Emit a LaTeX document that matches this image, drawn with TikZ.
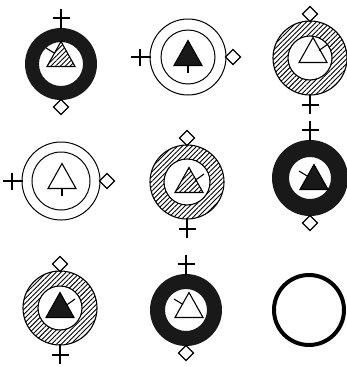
\documentclass[tikz,border=0pt]{standalone}
\usetikzlibrary{patterns.meta}
\tikzset{
  ol/.style={line width=1.1pt},
  thin ring/.style={line width=1pt},
  darkfill/.style={fill=black!90},
  hatch/.style={pattern={Lines[angle=45,distance=3.4pt,line width=0.9pt]}},
  symplus/.pic={\draw[ol] (0,1) -- (0,-19) (-8.5,-10) -- (8.5,-10);},
  symdiam/.pic={\draw[ol,fill=white] (0,0.5) -- (7.5,-7) -- (0,-14.5) -- (-7.5,-7) -- cycle;},
  tripath/.pic={\path[pic actions] (0,-12.5) -- (14,12.5) -- (-14,12.5) -- cycle;},
  tickL/.pic={\draw[ol] (-15,-6) -- (-6,-0.5);},
  tickR/.pic={\draw[ol] (6,0.5) -- (15,-6);},
  stem/.pic={\draw[ol] (0,12.5) -- (0,20);},
}
\begin{document}
\begin{tikzpicture}[x=1pt,y=-1pt]
\useasboundingbox (0,0) rectangle (347,367);
% ---- cell 1
\begin{scope}[shift={(61,64)}]
  \fill[darkfill, even odd rule] (0,0) circle (36) (0,0) circle (22);
  \pic at (0,-36) {symplus};
  \pic[rotate=180] at (0,36) {symdiam};
  \pic[draw,ol,hatch] at (0,-10) {tripath};
  \pic at (0,-10) {tickL};
\end{scope}
% ---- cell 2
\begin{scope}[shift={(188,57)}]
  \draw[thin ring] (0,0) circle (38) (0,0) circle (27);
  \pic[rotate=90] at (-38,0) {symplus};
  \pic[rotate=-90] at (38,0) {symdiam};
  \pic[draw,ol,fill=black!90] at (0,-4) {tripath};
  \pic at (0,-4) {stem};
\end{scope}
% ---- cell 3
\begin{scope}[shift={(310,58)}]
  \path[hatch, even odd rule] (0,0) circle (37) (0,0) circle (22);
  \draw[ol] (0,0) circle (37) (0,0) circle (22);
  \pic at (0,-37) {symdiam};
  \pic[rotate=180] at (0,37) {symplus};
  \pic[draw,ol] at (3,-8) {tripath};
  \pic at (3,-8) {tickR};
\end{scope}
% ---- cell 4
\begin{scope}[shift={(61,181)}]
  \draw[thin ring] (0,0) circle (39) (0,0) circle (29);
  \pic[rotate=90] at (-39,0) {symplus};
  \pic[rotate=-90] at (39,0) {symdiam};
  \pic[draw,ol] at (1,-5) {tripath};
  \pic at (1,-5) {stem};
\end{scope}
% ---- cell 5
\begin{scope}[shift={(187,182)}]
  \path[hatch, even odd rule] (0,0) circle (37) (0,0) circle (23);
  \draw[ol] (0,0) circle (37) (0,0) circle (23);
  \pic at (0,-37) {symdiam};
  \pic[rotate=180] at (0,37) {symplus};
  \pic[draw,ol,hatch] at (2,-2) {tripath};
  \pic at (2,-2) {tickR};
\end{scope}
% ---- cell 6
\begin{scope}[shift={(310,178)}]
  \fill[darkfill, even odd rule] (0,0) circle (38) (0,0) circle (21);
  \pic at (0,-38) {symplus};
  \pic[rotate=180] at (0,38) {symdiam};
  \pic[draw,ol,fill=black!90] at (4,-1) {tripath};
  \pic at (4,-1) {tickL};
\end{scope}
% ---- cell 7
\begin{scope}[shift={(60,308)}]
  \path[hatch, even odd rule] (0,0) circle (37) (0,0) circle (22);
  \draw[ol] (0,0) circle (37) (0,0) circle (22);
  \pic at (0,-37) {symdiam};
  \pic[rotate=180] at (0,37) {symplus};
  \pic[draw,ol,fill=black!90] at (0,-3) {tripath};
  \pic at (0,-3) {tickR};
\end{scope}
% ---- cell 8
\begin{scope}[shift={(186,310)}]
  \fill[darkfill, even odd rule] (0,0) circle (36) (0,0) circle (21);
  \pic at (0,-36) {symplus};
  \pic[rotate=180] at (0,36) {symdiam};
  \pic[draw,ol] at (3,-5) {tripath};
  \pic at (3,-5) {tickL};
\end{scope}
% ---- cell 9
\draw[line width=4pt] (309,310) circle (35);
\end{tikzpicture}
\end{document}
